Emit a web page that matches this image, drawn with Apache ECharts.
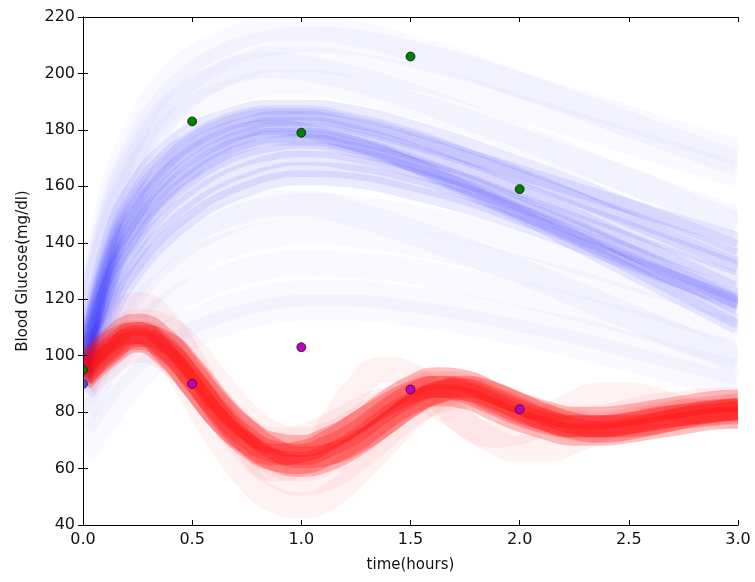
<!DOCTYPE html>
<html>
<head>
<meta charset="utf-8">
<script src="https://cdn.jsdelivr.net/npm/echarts@6/dist/echarts.min.js"></script>
<style>
  html, body { margin: 0; padding: 0; background: #fff; }
  #chart { width: 755px; height: 582px; }
</style>
</head>
<body>
<div id="chart"></div>
<script>
// time points (hours)
const blueTimes = [0, 0.125, 0.25, 0.375, 0.5, 0.625, 0.75, 0.875, 1, 1.25, 1.5, 1.75, 2, 2.25, 2.5, 2.75, 3];
const redTimes = [0, 0.125, 0.25, 0.375, 0.5, 0.625, 0.75, 0.875, 1, 1.125, 1.25, 1.375, 1.5,
  1.625, 1.75, 1.875, 2, 2.125, 2.25, 2.375, 2.5, 2.625, 2.75, 2.875, 3];

// blue sample curves, dense part
const blueCore = [
  [100, 142, 162, 173, 180, 184, 187, 188, 188, 186, 181, 175, 168, 161, 153, 146, 138],
  [98, 138, 158, 170, 177, 182, 185, 186, 186, 183, 178, 171, 164, 156, 148, 140, 132],
  [97, 135, 154, 166, 174, 179, 182, 184, 184, 181, 176, 170, 163, 156, 149, 142, 135],
  [96, 132, 151, 163, 171, 176, 180, 182, 182, 179, 173, 166, 158, 150, 141, 132, 123],
  [95, 130, 148, 160, 168, 174, 178, 180, 180, 177, 172, 166, 159, 152, 145, 138, 131],
  [94, 128, 146, 158, 166, 172, 176, 178, 178, 175, 169, 162, 154, 146, 137, 128, 119],
  [93, 126, 143, 155, 163, 169, 173, 175, 176, 173, 168, 162, 155, 148, 141, 134, 127],
  [92, 123, 140, 152, 160, 166, 170, 172, 173, 171, 166, 160, 153, 145, 137, 129, 121],
  [91, 120, 137, 148, 156, 162, 166, 169, 170, 168, 164, 158, 151, 143, 135, 126, 117],
  [90, 117, 133, 144, 152, 158, 162, 165, 166, 165, 161, 156, 149, 142, 134, 126, 118],
  [95, 133, 152, 164, 172, 177, 180, 181, 180, 175, 168, 159, 150, 140, 130, 120, 110],
  [93, 127, 145, 157, 165, 171, 175, 177, 177, 174, 168, 160, 151, 142, 132, 122, 112],
  [97, 136, 156, 168, 176, 181, 184, 185, 185, 182, 177, 171, 165, 159, 153, 147, 141],
  [89, 114, 130, 141, 149, 155, 159, 162, 163, 162, 158, 153, 147, 140, 133, 126, 119]
];
// blue sample curves, faint spread above and below
const blueOuter = [
  [103, 150, 175, 190, 199, 205, 209, 211, 212, 211, 207, 202, 196, 190, 184, 178, 172],
  [105, 155, 181, 196, 205, 210, 214, 216, 216, 214, 209, 203, 196, 189, 182, 175, 168],
  [101, 146, 170, 184, 193, 199, 203, 205, 205, 203, 199, 194, 188, 182, 176, 170, 164],
  [102, 148, 172, 186, 194, 199, 202, 203, 202, 198, 192, 185, 178, 170, 162, 154, 146],
  [99, 144, 166, 179, 187, 192, 195, 197, 197, 194, 189, 183, 176, 169, 162, 155, 148],
  [87, 110, 124, 134, 141, 146, 150, 152, 153, 152, 149, 145, 140, 134, 128, 122, 116],
  [84, 104, 117, 126, 133, 138, 141, 143, 144, 143, 140, 136, 131, 126, 120, 114, 108],
  [80, 97, 108, 117, 123, 127, 130, 132, 133, 132, 130, 126, 122, 117, 112, 106, 100],
  [75, 89, 99, 107, 112, 116, 119, 121, 122, 122, 120, 117, 113, 109, 104, 99, 94],
  [88, 112, 127, 137, 144, 149, 152, 154, 154, 150, 144, 137, 130, 122, 114, 106, 98],
  [66, 80, 92, 101, 107, 111, 114, 116, 117, 117, 115, 112, 108, 104, 99, 94, 89]
];

// red sample curves, dense part
const redCore = [
  [94, 103, 108, 103, 92, 80, 71, 66, 65, 68, 73, 80, 86, 89, 88, 84, 80, 77, 75, 75, 76, 77.5, 79, 80.5, 81],
  [96, 106, 111, 106, 95, 83, 74, 69, 68, 71, 76, 83, 89, 92, 91, 87, 83, 80, 78, 78, 79, 80.5, 82, 83.5, 84],
  [91, 100, 105, 100, 89, 77, 68, 63, 62, 65, 70, 77, 83, 86, 85, 81, 77, 74, 72, 72, 73, 74.5, 76, 77.5, 78],
  [93, 101, 107, 105, 96, 84, 74, 67, 64, 65, 69, 75, 82, 87, 89, 87, 83, 79, 76, 75, 75, 76, 78, 80, 81],
  [95, 105, 108, 101, 89, 77, 69, 65, 66, 70, 76, 82, 87, 89, 87, 83, 79, 76, 75, 75, 76, 78, 79, 80, 81],
  [92, 102, 106, 102, 92, 79, 69, 63, 61, 63, 68, 75, 82, 87, 88, 85, 81, 77, 74, 73, 74, 76, 78, 79, 80]
];
// red sample curves, faint spread
const redOuter = [
  [90, 100, 106, 100, 86, 70, 57, 49, 47, 50, 58, 68, 78, 85, 88, 86, 82, 78, 75, 74, 75, 77, 79, 81, 82],
  [92, 102, 108, 104, 94, 80, 68, 60, 62, 74, 88, 95, 93, 85, 76, 72, 73, 78, 83, 86, 86, 84, 81, 79, 79],
  [93, 103, 108, 103, 93, 82, 74, 70, 71, 75, 80, 84, 85, 82, 76, 70, 67, 67, 70, 74, 77, 79, 80, 80, 80],
  [88, 97, 102, 99, 90, 78, 66, 58, 55, 57, 63, 71, 79, 84, 86, 84, 80, 77, 75, 75, 76, 78, 80, 81, 82],
  [97, 110, 118, 112, 98, 82, 70, 62, 60, 63, 70, 78, 86, 90, 90, 86, 82, 78, 76, 76, 77, 78, 80, 81, 82],
  [93, 104, 112, 110, 102, 90, 79, 72, 70, 72, 77, 83, 88, 90, 89, 85, 81, 78, 77, 78, 80, 82, 83, 84, 84]
];

// observed points
const greenTimes = [0, 0.5, 1.0, 1.5, 2.0];
const greenValues = [95, 183, 179, 206, 159];
const magentaTimes = [0, 0.5, 1.0, 1.5, 2.0];
const magentaValues = [90, 90, 103, 88, 81];

const xTicks = [0, 0.5, 1.0, 1.5, 2.0, 2.5, 3.0];
const yTicks = [40, 60, 80, 100, 120, 140, 160, 180, 200, 220];

const FONT = "DejaVu Sans";

function pairs(times, vals) {
  return times.map((t, i) => [t, vals[i]]);
}

function curveSeries(times, list, color, width) {
  return list.map((vals) => ({
    type: "line",
    data: pairs(times, vals),
    smooth: 0.5,
    showSymbol: false,
    silent: true,
    z: 2,
    lineStyle: { width: width, color: color },
  }));
}

function pointSeries(times, vals, color, firstColor) {
  return {
    type: "scatter",
    data: times.map((t, i) => ({
      value: [t, vals[i]],
      itemStyle: i === 0 && firstColor ? { color: firstColor } : undefined,
    })),
    symbolSize: 9,
    silent: true,
    z: 3,
    itemStyle: { color: color, borderColor: "#1a1a1a", borderWidth: 0.8, opacity: 1 },
  };
}

const series = [].concat(
  curveSeries(blueTimes, blueOuter, "rgba(40,40,255,0.028)", 26),
  curveSeries(blueTimes, blueCore, "rgba(0,0,255,0.078)", 15),
  curveSeries(redTimes, redOuter, "rgba(255,0,0,0.05)", 26),
  curveSeries(redTimes, redCore, "rgba(255,0,0,0.24)", 22),
  [
    pointSeries(greenTimes, greenValues, "#008000"),
    pointSeries(magentaTimes, magentaValues, "#bf00bf", "#5a4de0"),
  ]
);

const axisLine = { lineStyle: { color: "#000", width: 1 } };
const tickIn = { inside: true, length: 5, lineStyle: { color: "#000" } };

const chart = echarts.init(document.getElementById("chart"));
chart.setOption({
  animation: false,
  backgroundColor: "#fff",
  grid: { left: 83, right: 17, top: 17, bottom: 57, containLabel: false },
  xAxis: [
    {
      type: "value",
      min: 0,
      max: 3,
      interval: 0.5,
      z: 10,
      name: "time(hours)",
      nameLocation: "middle",
      nameGap: 33,
      nameTextStyle: { fontFamily: FONT, fontSize: 15, color: "#111" },
      axisLine: axisLine,
      axisTick: tickIn,
      splitLine: { show: false },
      axisLabel: {
        margin: 7,
        fontFamily: FONT,
        fontSize: 16,
        color: "#111",
        formatter: (v) => (xTicks.indexOf(v) >= 0 ? v.toFixed(1) : ""),
      },
    },
    {
      type: "value",
      position: "top",
      min: 0,
      max: 3,
      interval: 0.5,
      z: 10,
      axisLine: axisLine,
      axisTick: tickIn,
      axisLabel: { show: false },
      splitLine: { show: false },
    },
  ],
  yAxis: [
    {
      type: "value",
      min: 40,
      max: 220,
      interval: 20,
      z: 10,
      name: "Blood Glucose(mg/dl)",
      nameLocation: "middle",
      nameGap: 52,
      nameTextStyle: { fontFamily: FONT, fontSize: 15, color: "#111" },
      axisLine: axisLine,
      axisTick: tickIn,
      splitLine: { show: false },
      axisLabel: {
        margin: 8,
        fontFamily: FONT,
        fontSize: 16,
        color: "#111",
        formatter: (v) => (yTicks.indexOf(v) >= 0 ? String(v) : ""),
      },
    },
    {
      type: "value",
      position: "right",
      min: 40,
      max: 220,
      interval: 20,
      z: 10,
      axisLine: axisLine,
      axisTick: tickIn,
      axisLabel: { show: false },
      splitLine: { show: false },
    },
  ],
  // white frame around the plot so the thick curves stop at the axes
  graphic: [
    { type: "rect", z: 5, silent: true, shape: { x: 0, y: 0, width: 755, height: 17 }, style: { fill: "#fff" } },
    { type: "rect", z: 5, silent: true, shape: { x: 0, y: 525, width: 755, height: 57 }, style: { fill: "#fff" } },
    { type: "rect", z: 5, silent: true, shape: { x: 0, y: 0, width: 83, height: 582 }, style: { fill: "#fff" } },
    { type: "rect", z: 5, silent: true, shape: { x: 738, y: 0, width: 17, height: 582 }, style: { fill: "#fff" } },
  ],
  series: series,
});
window.addEventListener("resize", () => chart.resize());
</script>
</body>
</html>
